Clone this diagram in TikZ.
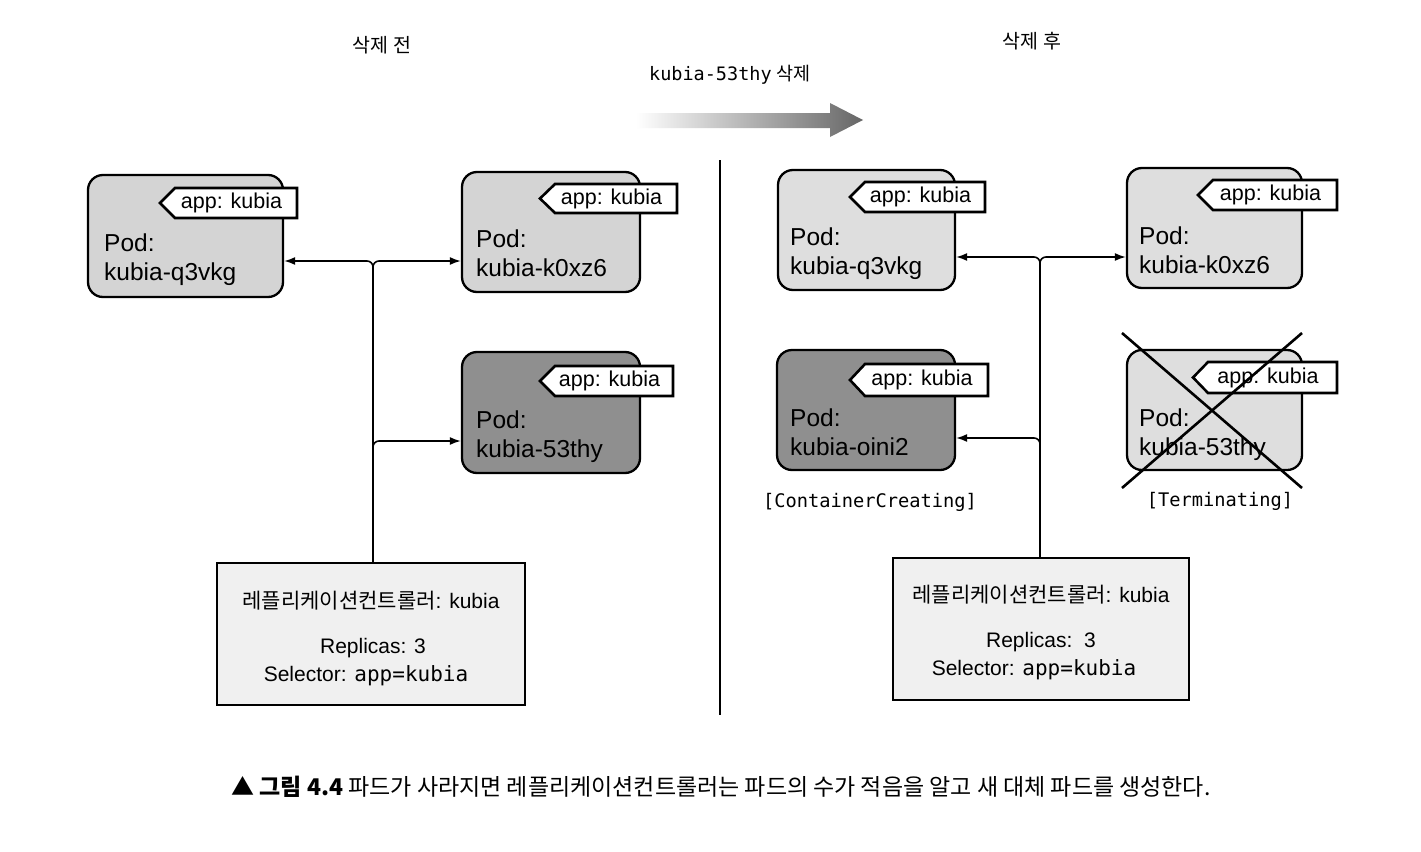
\documentclass[tikz,border=0pt]{standalone}
\usepackage{fontspec}
\setmainfont{Liberation Sans}
\setmonofont{DejaVu Sans Mono}
\newfontfamily\kr{Noto Sans CJK KR}
\usetikzlibrary{arrows.meta}
\definecolor{podlight}{gray}{0.83}
\definecolor{podlighter}{gray}{0.87}
\definecolor{poddark}{gray}{0.56}
\definecolor{rcfill}{gray}{0.94}
\tikzset{
  podbox/.style={draw=black, line width=2.3pt, rounded corners=15pt, inner sep=0pt},
  podtxt/.style={font=\fontsize{24.5}{28}\selectfont, anchor=base west, inner sep=0pt},
  tagbox/.style={draw=black, line width=2.6pt, fill=white, line join=miter},
  tagtxt/.style={font=\fontsize{21.5}{26}\selectfont, inner sep=0pt},
  rcbox/.style={draw=black, line width=2pt, fill=rcfill, inner sep=0pt},
  rctxt/.style={font=\fontsize{21}{25}\selectfont, inner sep=0pt},
  conn/.style={line width=1.6pt, rounded corners=6pt, -{Latex[length=11pt,width=8pt]}},
  headtxt/.style={font=\kr\fontsize{19.5}{23}\selectfont, inner sep=0pt},
  statetxt/.style={font=\ttfamily\fontsize{18.7}{22}\selectfont, inner sep=0pt},
  crossline/.style={line width=2.6pt},
}
\newcommand\podtag[5]{%
  \draw[tagbox] (#2,{(#4+#5)/2}) -- ({#2+15},#4) -- (#3,#4) -- (#3,#5) -- ({#2+15},#5) -- cycle;
  \node[tagtxt] (#1) at ({(#2+#3)/2+3},{(#4+#5)/2}) {app: kubia};
}
\begin{document}
\begin{tikzpicture}[x=1pt,y=-1pt]
\useasboundingbox (0,0) rectangle (1421,851);
\fill[white] (0,0) rectangle (1421,851);

% headings
\node[headtxt] (hbefore) at (382,45) {삭제 전};
\node[headtxt] (hafter) at (1032,41) {삭제 후};
\node[font=\fontsize{18.5}{22}\selectfont, inner sep=0pt] (hdel) at (730,75) {\texttt{kubia-53thy} {\kr 삭제}};
\shade[left color=white, right color=black!60] (636,113) -- (830,113) -- (830,103) -- (863,120) -- (830,137) -- (830,128) -- (636,128) -- cycle;

% divider
\draw[line width=1.5pt] (720,160) -- (720,715);

% ---------- left side ----------
\node[podbox, fill=podlight, minimum width=195pt, minimum height=122pt] (p1) at (185.5,236) {};
\node[podbox, fill=podlight, minimum width=178pt, minimum height=120pt] (p2) at (551,232) {};
\node[podbox, fill=poddark, minimum width=178pt, minimum height=121pt] (p3) at (551,412.5) {};
\podtag{t1}{160}{297}{188}{218}
\podtag{t2}{540}{677}{184}{213}
\podtag{t3}{540}{673}{366}{396}
\node[podtxt] (p1a) at (104,251) {Pod:};
\node[podtxt] (p1b) at (104,280) {kubia-q3vkg};
\node[podtxt] (p2a) at (476,247) {Pod:};
\node[podtxt] (p2b) at (476,276) {kubia-k0xz6};
\node[podtxt] (p3a) at (476,428) {Pod:};
\node[podtxt] (p3b) at (476,457) {kubia-53thy};

\node[rcbox, minimum width=308pt, minimum height=142pt] (rc1) at (371,634) {};
\node[rctxt] (rc1a) at (371,601) {{\kr 레플리케이션컨트롤러}: kubia};
\node[rctxt] (rc1b) at (373,648) {Replicas: 3};
\node[rctxt] (rc1c) at (366,676) {Selector: \texttt{app=kubia}};

\coordinate (j1) at (373,261);
\coordinate (j1b) at (373,441);
\draw[conn] (rc1.north -| j1) -- (j1) -- (p1.east |- j1);
\draw[conn] (j1b) -- (j1) -- (p2.west |- j1);
\draw[conn] (rc1.north -| j1) -- (j1b) -- (p3.west |- j1b);

% ---------- right side ----------
\node[podbox, fill=podlighter, minimum width=177pt, minimum height=120pt] (p4) at (866.5,230) {};
\node[podbox, fill=podlighter, minimum width=175pt, minimum height=120pt] (p5) at (1214.5,228) {};
\node[podbox, fill=poddark, minimum width=178pt, minimum height=120pt] (p6) at (866,410) {};
\node[podbox, fill=podlighter, minimum width=175pt, minimum height=120pt] (p7) at (1214.5,410) {};
\podtag{t4}{850}{985}{182}{212}
\podtag{t5}{1198}{1337}{180}{210}
\podtag{t6}{850}{988}{364}{396}
\podtag{t7}{1193}{1337}{362}{393}
\node[podtxt] (p4a) at (790,245) {Pod:};
\node[podtxt] (p4b) at (790,274) {kubia-q3vkg};
\node[podtxt] (p5a) at (1139,244) {Pod:};
\node[podtxt] (p5b) at (1139,273) {kubia-k0xz6};
\node[podtxt] (p6a) at (790,426) {Pod:};
\node[podtxt] (p6b) at (790,455) {kubia-oini2};
\node[podtxt] (p7a) at (1139,426) {Pod:};
\node[podtxt] (p7b) at (1139,455) {kubia-53thy};

\coordinate (x1) at (1122,333);
\coordinate (x2) at (1302,488);
\coordinate (x3) at (1302,333);
\coordinate (x4) at (1122,488);
\draw[crossline] (x1) -- (x2);
\draw[crossline] (x3) -- (x4);

\node[statetxt] (s1) at (870,502) {[ContainerCreating]};
\node[statetxt] (s2) at (1220,501) {[Terminating]};

\node[rcbox, minimum width=296pt, minimum height=142pt] (rc2) at (1041,629) {};
\node[rctxt] (rc2a) at (1041,595) {{\kr 레플리케이션컨트롤러}: kubia};
\node[rctxt] (rc2b) at (1041,642) {Replicas:\ \ 3};
\node[rctxt] (rc2c) at (1034,670) {Selector: \texttt{app=kubia}};

\coordinate (j2) at (1040,257);
\coordinate (j2b) at (1040,438);
\draw[conn] (rc2.north -| j2) -- (j2) -- (p4.east |- j2);
\draw[conn] (j2b) -- (j2) -- (p5.west |- j2);
\draw[conn] (rc2.north -| j2) -- (j2b) -- (p6.east |- j2b);

% caption
\node[font=\kr\fontsize{23}{27}\selectfont, inner sep=0pt] (cap) at (721,787) {\textbf{▲ 그림 4.4} 파드가 사라지면 레플리케이션컨트롤러는 파드의 수가 적음을 알고 새 대체 파드를 생성한다.};
\end{tikzpicture}
\end{document}
